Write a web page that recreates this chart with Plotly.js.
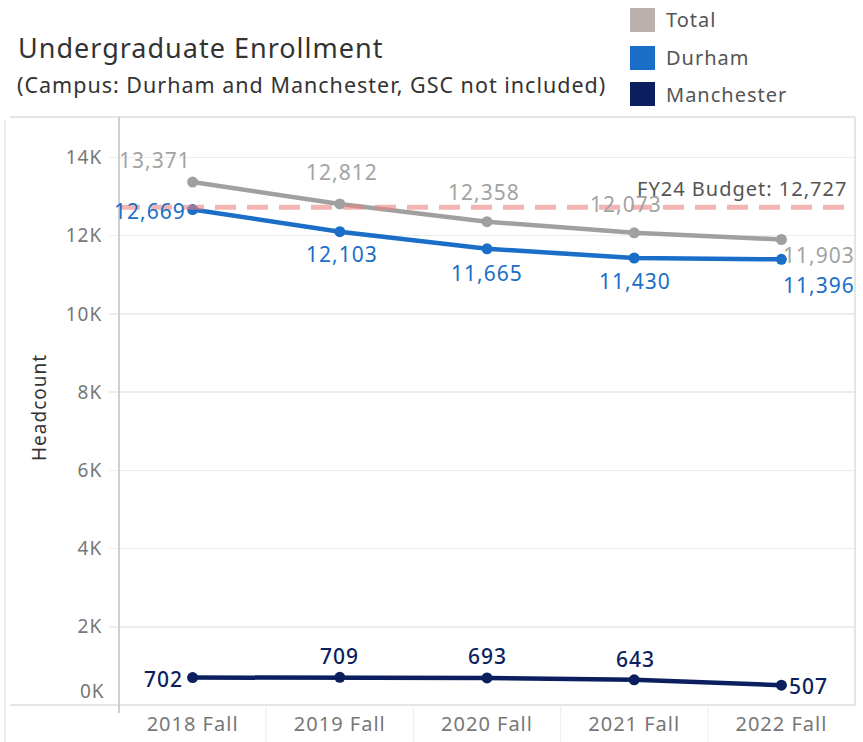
<!DOCTYPE html>
<html>
<head>
<meta charset="utf-8">
<script src="https://cdn.plot.ly/plotly-3.0.1.min.js"></script>
<style>
html,body{margin:0;padding:0;background:#fff;}
#chart{width:863px;height:742px;}
svg text{letter-spacing:1px;}
</style>
</head>
<body>
<div id="chart"></div>
<script>
// ---- data ----
var terms = ["2018 Fall", "2019 Fall", "2020 Fall", "2021 Fall", "2022 Fall"];
var totalHeadcount = [13371, 12812, 12358, 12073, 11903];
var durhamHeadcount = [12669, 12103, 11665, 11430, 11396];
var manchesterHeadcount = [702, 709, 693, 643, 507];
var budgetFY24 = 12727;
var yTickVals = [0, 2000, 4000, 6000, 8000, 10000, 12000, 14000];
var yTickText = ["0K", "2K", "4K", "6K", "8K", "10K", "12K", "14K"];
var seriesNames = ["Total", "Durham", "Manchester"];

// ---- styling ----
var FONT = "Noto Sans, Lato, sans-serif";
var cTotal = "#a0a0a0", cTotalLbl = "#a3a3a3", cTotalLegend = "#bab0ac";
var cDurham = "#1a6ec7";
var cManch = "#0b1f5e";

// plot area in pixels: x 119..855, y 117..705
var L = 119, R = 855, T = 117, B = 705;
function px(p) { return (p - L) / (R - L); }
function py(p) { return (B - p) / (B - T); }

function fmt(v) { return v.toLocaleString("en-US"); }

// label placement per point: [xanchor, xshift, yshift]
var totalPlace = [["right", 0, 22], ["center", 2, 32], ["center", -3, 30], ["center", -8, 29], ["left", 0, -16]];
var durhamPlace = [["right", -5, -1], ["center", 2, -22], ["center", 0, -24], ["center", 1, -23], ["left", 0, -26]];
var manchPlace = [["right", -8, -1], ["center", 0, 21], ["center", 0, 22], ["center", 1, 21], ["left", 6, -1]];

function lineTrace(name, vals, color) {
  return {
    type: "scatter", mode: "lines+markers", name: name,
    x: terms, y: vals,
    line: { color: color, width: 4.5 },
    marker: { color: color, size: 11 },
    showlegend: false, hoverinfo: "x+y"
  };
}

var traces = [
  lineTrace(seriesNames[0], totalHeadcount, cTotal),
  lineTrace(seriesNames[1], durhamHeadcount, cDurham),
  lineTrace(seriesNames[2], manchesterHeadcount, cManch)
];

var annotations = [];
function addLabels(vals, place, color, weight) {
  vals.forEach(function (v, i) {
    annotations.push({
      x: terms[i], y: v, xref: "x", yref: "y",
      text: fmt(v), showarrow: false,
      xanchor: place[i][0], yanchor: "middle",
      xshift: place[i][1], yshift: place[i][2],
      font: { family: FONT, size: 21, color: color, weight: weight }
    });
  });
}
addLabels(totalHeadcount, totalPlace, cTotalLbl, 400);
addLabels(durhamHeadcount, durhamPlace, cDurham, 400);
addLabels(manchesterHeadcount, manchPlace, cManch, 500);

// budget label
annotations.push({
  x: px(849), xref: "paper", y: budgetFY24, yref: "y",
  xanchor: "right", yanchor: "middle", yshift: 19,
  text: "FY24 Budget: " + fmt(budgetFY24), showarrow: false,
  font: { family: FONT, size: 20, color: "#555555" }
});
// 0K label (raised like the original)
annotations.push({
  x: px(107), xref: "paper", y: 0, yref: "y", xanchor: "right", yanchor: "middle",
  yshift: 14, text: yTickText[0], showarrow: false,
  font: { family: FONT, size: 19, color: "#777777" }
});
// subtitle
annotations.push({
  x: px(15), xref: "paper", y: py(84), yref: "paper", xanchor: "left", yanchor: "middle",
  text: "(Campus: Durham and Manchester, GSC not included)", showarrow: false,
  font: { family: FONT, size: 21.5, color: "#333333" }
});
// y axis title
annotations.push({
  x: px(39), xref: "paper", y: py(408), yref: "paper", xanchor: "center", yanchor: "middle",
  text: "Headcount", textangle: -90, showarrow: false,
  font: { family: FONT, size: 19, color: "#333333" }
});

// legend
var legendColors = [cTotalLegend, cDurham, cManch];
var legendY = [20, 58, 94];
var shapes = [];
seriesNames.forEach(function (n, i) {
  shapes.push({
    type: "rect", xref: "paper", yref: "paper",
    x0: px(630), x1: px(655), y0: py(legendY[i] + 12), y1: py(legendY[i] - 12),
    fillcolor: legendColors[i], line: { width: 0 }
  });
  annotations.push({
    x: px(664), xref: "paper", y: py(legendY[i]), yref: "paper",
    xanchor: "left", yanchor: "middle", text: n, showarrow: false,
    font: { family: FONT, size: 20, color: "#555555" }
  });
});

// budget reference line
shapes.push({
  type: "line", xref: "paper", x0: 0, x1: 1, yref: "y", y0: budgetFY24, y1: budgetFY24,
  line: { color: "rgba(236,130,130,0.6)", width: 5, dash: "21px,11px" }, layer: "above"
});
// frame lines
var frame = "#dcdcdc";
shapes.push({ type: "line", xref: "paper", yref: "paper", x0: px(10), x1: 1, y0: 1, y1: 1, line: { color: frame, width: 1.5 } });
shapes.push({ type: "line", xref: "paper", yref: "paper", x0: px(10), x1: 1, y0: 0, y1: 0, line: { color: frame, width: 1.5 } });
shapes.push({ type: "line", xref: "paper", yref: "paper", x0: 1, x1: 1, y0: 0, y1: 1, line: { color: frame, width: 1.5 } });
shapes.push({ type: "line", xref: "paper", yref: "paper", x0: px(5), x1: px(5), y0: py(742), y1: py(120), line: { color: "#e6e6e6", width: 1.5 } });
shapes.push({ type: "line", xref: "paper", yref: "paper", x0: 0, x1: 0, y0: py(713), y1: 1, line: { color: "#cfcfcf", width: 2 } });
// category dividers under axis
[0.5, 1.5, 2.5, 3.5].forEach(function (b) {
  shapes.push({ type: "line", xref: "x", yref: "paper", x0: b, x1: b, y0: py(742), y1: 0, line: { color: "#eeeeee", width: 1 } });
});

var layout = {
  width: 863, height: 742,
  margin: { l: L, r: 863 - R, t: T, b: 742 - B, pad: 0 },
  paper_bgcolor: "#ffffff", plot_bgcolor: "#ffffff",
  font: { family: FONT, color: "#666666" },
  title: {
    text: "Undergraduate Enrollment",
    x: 18 / 863, xref: "container", xanchor: "left",
    y: 1 - 49 / 742, yref: "container", yanchor: "middle",
    font: { family: FONT, size: 27, color: "#333333" }
  },
  showlegend: false,
  xaxis: {
    type: "category", range: [-0.5, 4.5], fixedrange: true,
    showgrid: false, zeroline: false, showline: false,
    ticks: "", tickfont: { family: FONT, size: 20, color: "#777777" },
    ticklabelstandoff: 5
  },
  yaxis: {
    range: [0, 15035], fixedrange: true,
    tickvals: yTickVals.slice(1), ticktext: yTickText.slice(1),
    showgrid: true, gridcolor: "#ededed", gridwidth: 1.5,
    zeroline: false, showline: false,
    ticks: "outside", ticklen: 9, tickcolor: "#ededed", tickwidth: 1.5,
    tickfont: { family: FONT, size: 19, color: "#777777" },
    ticklabelstandoff: 3
  },
  shapes: shapes,
  annotations: annotations
};

Plotly.newPlot("chart", traces, layout, { displayModeBar: false, staticPlot: true });
</script>
</body>
</html>
